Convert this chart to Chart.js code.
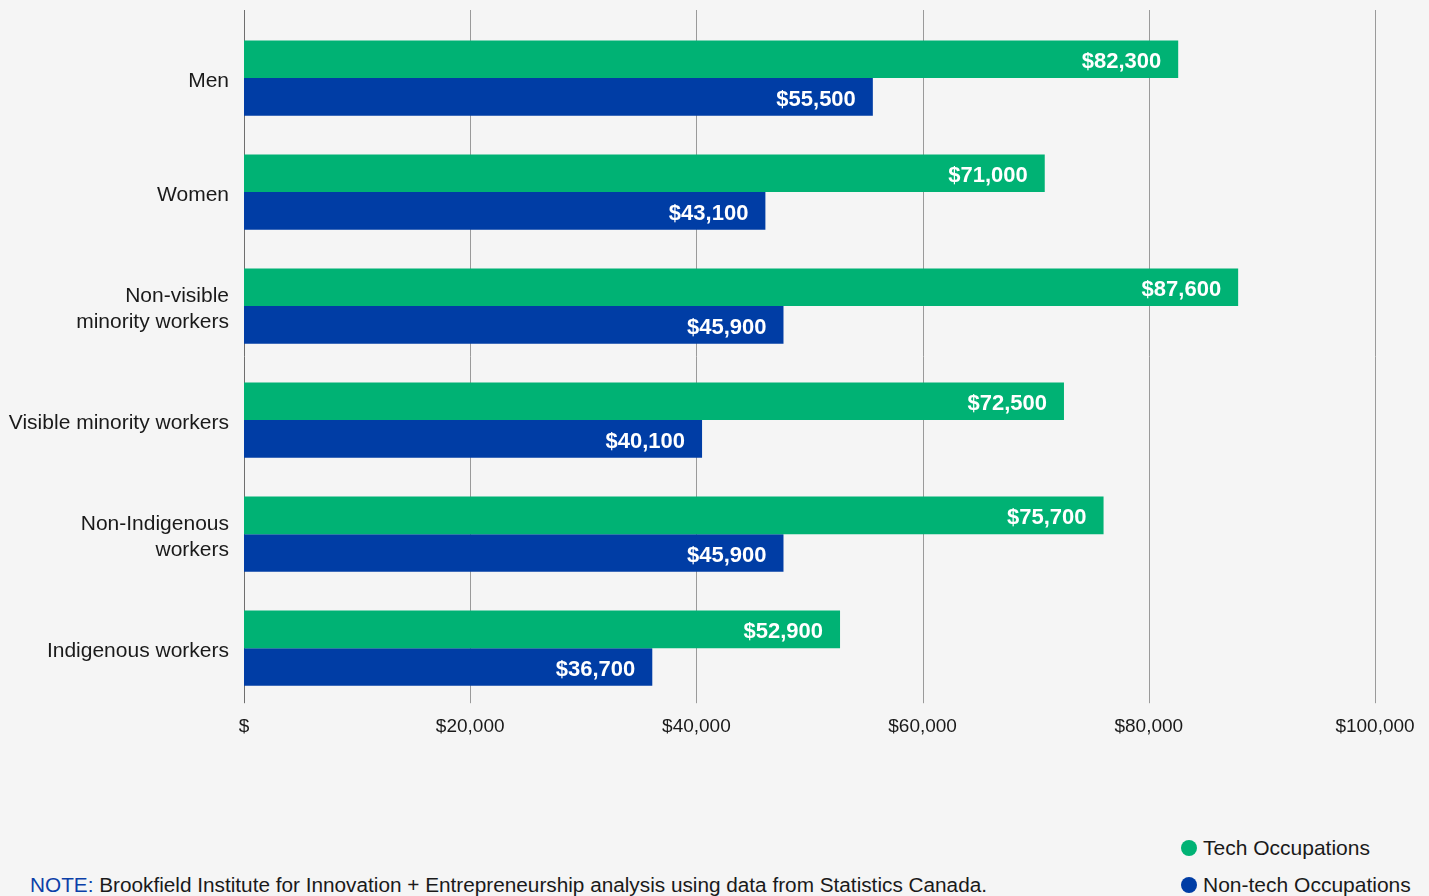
<!DOCTYPE html>
<html>
<head>
<meta charset="utf-8">
<script src="https://cdn.jsdelivr.net/npm/chart.js@4/dist/chart.umd.min.js"></script>
<style>
  html, body { margin: 0; padding: 0; background: #f5f5f5; }
  #wrap { position: relative; width: 1429px; height: 896px; overflow: hidden; background: #f5f5f5; }
  #chart { position: absolute; left: 0; top: 0; }
  .note { position: absolute; left: 30px; top: 874px; font: 20px "Liberation Sans Narrow", "Liberation Sans", sans-serif; color: #1a1a1a; white-space: nowrap; transform-origin: left center; }
  .note b { font-weight: normal; color: #0b3fa8; }
  .legend { position: absolute; left: 1181px; font: 21px "Liberation Sans", sans-serif; color: #1a1a1a; white-space: nowrap; }
  .legend i { display: inline-block; width: 16px; height: 16px; border-radius: 50%; margin-right: 6px; vertical-align: -1px; }
</style>
</head>
<body>
<div id="wrap">
  <canvas id="chart" width="1429" height="780"></canvas>
  <div class="legend" style="top:836px"><i style="background:#00b274"></i>Tech Occupations</div>
  <div class="legend" style="top:873px"><i style="background:#003da5"></i>Non-tech Occupations</div>
  <div class="note" id="note"><b>NOTE:</b> Brookfield Institute for Innovation + Entrepreneurship analysis using data from Statistics Canada.</div>
</div>
<script>
const categories = ['Men', 'Women', ['Non-visible', 'minority workers'], 'Visible minority workers', ['Non-Indigenous', 'workers'], 'Indigenous workers'];
// bar lengths as drawn in the picture
const techValues = [82600, 70800, 87900, 72500, 76000, 52700];
const nonTechValues = [55600, 46100, 47700, 40500, 47700, 36100];
// value labels as printed on the bars
const techLabels = ['$82,300', '$71,000', '$87,600', '$72,500', '$75,700', '$52,900'];
const nonTechLabels = ['$55,500', '$43,100', '$45,900', '$40,100', '$45,900', '$36,700'];
const xTicks = [0, 20000, 40000, 60000, 80000, 100000];

const GREEN = '#00b274';
const BLUE = '#003da5';

// squeeze the note into the width it takes in the original
const note = document.getElementById('note');
const w = note.getBoundingClientRect().width;
note.style.transform = 'scaleX(' + (957 / w) + ')';

const gridPlugin = {
    id: 'gridLines',
    beforeDatasetsDraw(chart) {
        const ctx = chart.ctx;
        const xs = chart.scales.x;
        ctx.save();
        ctx.lineWidth = 1;
        xTicks.forEach(v => {
            const x = Math.round(xs.getPixelForValue(v)) + 0.5;
            ctx.strokeStyle = v === 0 ? '#6e6e6e' : '#9a9a9a';
            ctx.beginPath();
            ctx.moveTo(x, 10);
            ctx.lineTo(x, chart.chartArea.bottom - 2);
            ctx.stroke();
        });
        ctx.restore();
    }
};

const labelPlugin = {
    id: 'barLabels',
    afterDatasetsDraw(chart) {
        const ctx = chart.ctx;
        const texts = [techLabels, nonTechLabels];
        ctx.save();
        ctx.font = 'bold 22px "Liberation Sans", sans-serif';
        ctx.fillStyle = '#ffffff';
        ctx.textAlign = 'right';
        ctx.textBaseline = 'middle';
        chart.data.datasets.forEach((ds, i) => {
            chart.getDatasetMeta(i).data.forEach((bar, j) => {
                ctx.fillText(texts[i][j], bar.x - 17, bar.y + 3);
            });
        });
        ctx.restore();
    }
};

new Chart(document.getElementById('chart').getContext('2d'), {
    type: 'bar',
    data: {
        labels: categories,
        datasets: [
            { label: 'Tech Occupations', data: techValues, backgroundColor: GREEN, borderWidth: 0 },
            { label: 'Non-tech Occupations', data: nonTechValues, backgroundColor: BLUE, borderWidth: 0 }
        ]
    },
    options: {
        indexAxis: 'y',
        responsive: false,
        animation: false,
        layout: { padding: { top: 21, right: 54, bottom: 32, left: 0 } },
        datasets: { bar: { categoryPercentage: 0.66, barPercentage: 1 } },
        plugins: { legend: { display: false }, tooltip: { enabled: false } },
        scales: {
            x: {
                min: 0, max: 100000,
                afterBuildTicks: s => { s.ticks = xTicks.map(v => ({ value: v })); },
                grid: { display: false, drawTicks: false },
                border: { display: false },
                ticks: {
                    padding: 10,
                    color: '#1a1a1a',
                    font: { family: '"Liberation Sans", sans-serif', size: 19 },
                    callback: v => v === 0 ? '$' : '$' + v.toLocaleString('en-US')
                }
            },
            y: {
                afterFit: s => { s.width = 244; s.paddingTop = 0; s.paddingBottom = 0; },
                grid: { display: false, drawTicks: false },
                border: { display: false },
                ticks: {
                    padding: 15,
                    labelOffset: 3,
                    color: '#1a1a1a',
                    font: { family: '"Liberation Sans", sans-serif', size: 21, lineHeight: 1.24 }
                }
            }
        }
    },
    plugins: [gridPlugin, labelPlugin]
});
</script>
</body>
</html>
